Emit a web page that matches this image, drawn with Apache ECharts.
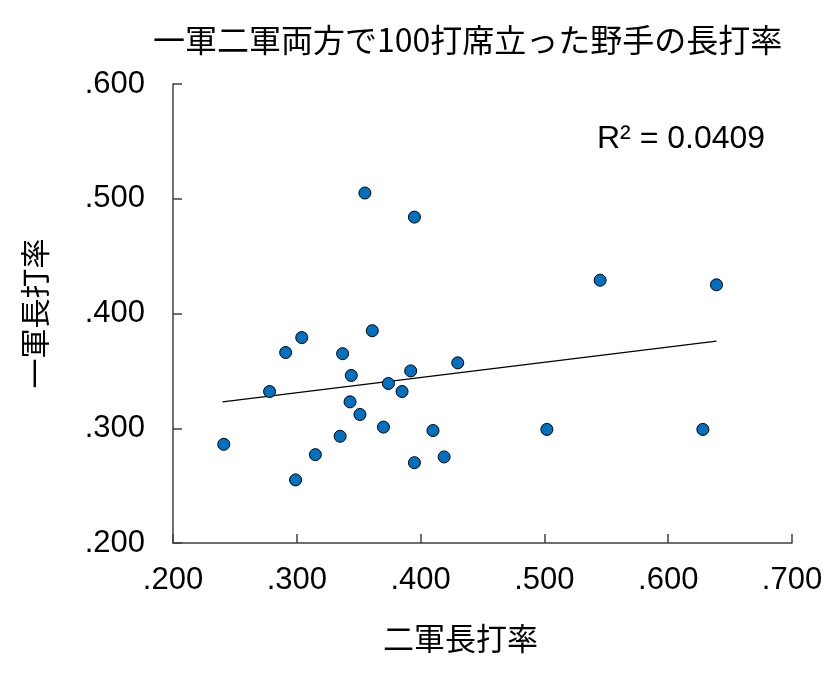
<!DOCTYPE html>
<html>
<head>
    <meta charset="utf-8" />
    <script src="https://cdn.jsdelivr.net/npm/echarts@6/dist/echarts.min.js"></script>
    <title></title>
    <style>
        html, body { margin: 0; padding: 0; background: #fff; }
    </style>
</head>
<body>
    <div id="main" style="width: 837px;height:675px;"></div>

    <script type="text/javascript">

        // 二軍長打率 (x) と 一軍長打率 (y)
        var farmSlg = [0.241, 0.278, 0.291, 0.304, 0.299, 0.315, 0.335, 0.337, 0.344, 0.343, 0.351, 0.355, 0.361,
            0.370, 0.374, 0.385, 0.392, 0.395, 0.395, 0.410, 0.419, 0.430, 0.502, 0.545, 0.628, 0.639];
        var firstSlg = [0.286, 0.332, 0.366, 0.379, 0.255, 0.277, 0.293, 0.365, 0.346, 0.323, 0.312, 0.505, 0.385,
            0.301, 0.339, 0.332, 0.350, 0.484, 0.270, 0.298, 0.275, 0.357, 0.299, 0.429, 0.299, 0.425];

        // 近似直線の両端
        var trendX = [0.240, 0.639];
        var trendY = [0.323, 0.376];

        var xTicks = [0.2, 0.3, 0.4, 0.5, 0.6, 0.7];
        var yTicks = [0.2, 0.3, 0.4, 0.5, 0.6];

        var points = [];
        for (var i = 0; i < farmSlg.length; i++) {
            points.push([farmSlg[i], firstSlg[i]]);
        }
        var trend = [];
        for (var j = 0; j < trendX.length; j++) {
            trend.push([trendX[j], trendY[j]]);
        }

        function fmt(v) {
            return v.toFixed(3).replace(/^0/, '');
        }

        var numFont = '"Liberation Sans", Arial, sans-serif';
        var jpFont = '"Noto Sans CJK JP", sans-serif';

        var myChart = echarts.init(document.getElementById('main'));

        myChart.setOption({
            animation: false,
            backgroundColor: '#fff',
            title: {
                text: '一軍二軍両方で100打席立った野手の長打率',
                left: 148,
                top: 19,
                textStyle: { fontFamily: jpFont, fontSize: 32, fontWeight: 'normal', color: '#000' }
            },
            grid: { left: 173, right: 45, top: 84, bottom: 132 },
            xAxis: {
                type: 'value',
                min: xTicks[0],
                max: xTicks[xTicks.length - 1],
                interval: 0.1,
                name: '二軍長打率',
                nameLocation: 'middle',
                nameGap: 80,
                nameTextStyle: { fontFamily: jpFont, fontSize: 31, color: '#000', padding: [0, 44, 0, 0] },
                axisLine: { lineStyle: { color: '#404040', width: 1.5 } },
                axisTick: { inside: true, length: 9, lineStyle: { color: '#404040', width: 1.5 } },
                axisLabel: { formatter: fmt, fontFamily: numFont, fontSize: 31, color: '#000', margin: 22 },
                splitLine: { show: false }
            },
            yAxis: {
                type: 'value',
                min: yTicks[0],
                max: yTicks[yTicks.length - 1],
                interval: 0.1,
                name: '一軍長打率',
                nameLocation: 'middle',
                nameGap: 123,
                nameRotate: 90,
                nameTextStyle: { fontFamily: jpFont, fontSize: 30, color: '#000' },
                axisLine: { show: true, lineStyle: { color: '#404040', width: 1.5 } },
                axisTick: { show: true, inside: true, length: 9, lineStyle: { color: '#404040', width: 1.5 } },
                axisLabel: { formatter: fmt, fontFamily: numFont, fontSize: 31, color: '#000', margin: 28 },
                splitLine: { show: false }
            },
            graphic: [{
                type: 'text',
                left: 597,
                top: 123,
                style: { text: 'R² = 0.0409', font: '32px "Liberation Sans", Arial, sans-serif', fill: '#000' }
            }],
            series: [{
                type: 'line',
                data: trend,
                showSymbol: false,
                symbol: 'none',
                lineStyle: { color: '#000', width: 1.2 },
                z: 1
            }, {
                type: 'scatter',
                data: points,
                symbolSize: 12,
                itemStyle: { color: '#0070C0', borderColor: '#000', borderWidth: 1, opacity: 1 },
                z: 2
            }]
        });

    </script>
</body>
</html>
